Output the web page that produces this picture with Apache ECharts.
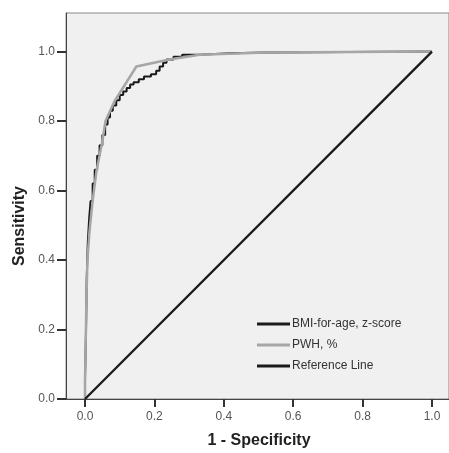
<!DOCTYPE html>
<html>
<head>
<meta charset="utf-8">
<script src="https://cdn.jsdelivr.net/npm/echarts@6/dist/echarts.min.js"></script>
<style>html,body{margin:0;padding:0;background:#fff}#c{width:449px;height:453px}</style>
</head>
<body>
<div id="c"></div>
<script>
var tickValues = [0, 0.2, 0.4, 0.6, 0.8, 1.0];
var seriesNames = ['BMI-for-age, z-score', 'PWH, %', 'Reference Line'];
var bmiPoints = [[0,0],[0,0.06],[0.003,0.06],[0.003,0.2],[0.005,0.2],[0.005,0.35],[0.008,0.35],[0.008,0.45],[0.012,0.45],[0.012,0.52],[0.016,0.52],[0.016,0.57],[0.022,0.57],[0.022,0.62],[0.028,0.62],[0.028,0.66],[0.035,0.66],[0.035,0.70],[0.042,0.70],[0.042,0.73],[0.05,0.73],[0.05,0.76],[0.058,0.76],[0.058,0.79],[0.065,0.79],[0.065,0.81],[0.072,0.81],[0.072,0.83],[0.08,0.83],[0.08,0.845],[0.09,0.845],[0.09,0.86],[0.1,0.86],[0.1,0.875],[0.11,0.875],[0.11,0.885],[0.12,0.885],[0.12,0.895],[0.13,0.895],[0.13,0.905],[0.14,0.905],[0.14,0.912],[0.155,0.912],[0.155,0.92],[0.17,0.92],[0.17,0.928],[0.19,0.928],[0.19,0.935],[0.205,0.935],[0.205,0.945],[0.215,0.945],[0.215,0.957],[0.225,0.957],[0.225,0.968],[0.235,0.968],[0.235,0.977],[0.255,0.977],[0.255,0.985],[0.28,0.985],[0.28,0.991],[0.33,0.991],[0.33,0.995],[0.42,0.995],[0.42,0.997],[0.52,0.997],[0.52,1.0],[1,1]];
var pwhPoints = [[0,0],[0.0,0.054],[0.004,0.284],[0.007,0.40],[0.013,0.484],[0.022,0.57],[0.033,0.656],[0.05,0.742],[0.059,0.80],[0.085,0.857],[0.148,0.957],[0.243,0.977],[0.33,0.991],[0.52,0.997],[1,1]];
var refPoints = [[0,0],[1,1]];

var chart = echarts.init(document.getElementById('c'));
var fam = 'Liberation Sans, Arial, sans-serif';
chart.setOption({
  animation:false,
  backgroundColor:'#ffffff',
  grid:{left:66, top:13, right:-2, bottom:54, show:true, backgroundColor:'#eff0ef', borderColor:'#888', borderWidth:1, containLabel:false},
  xAxis:{type:'value', min:-0.0548, max:1.049,
    splitLine:{show:false},
    axisLine:{show:true, onZero:false, lineStyle:{color:'#444', width:1}},
    axisTick:{show:true, inside:false, customValues:tickValues, length:8, lineStyle:{color:'#333', width:2}},
    axisLabel:{customValues:tickValues, formatter:function(v){return v.toFixed(1);}, margin:12, fontFamily:fam, fontSize:12, color:'#555'}
  },
  yAxis:{type:'value', min:0, max:1.111,
    splitLine:{show:false},
    axisLine:{show:true, onZero:false, lineStyle:{color:'#444', width:1}},
    axisTick:{show:true, inside:false, customValues:tickValues, length:9, lineStyle:{color:'#333', width:2}},
    axisLabel:{customValues:tickValues, formatter:function(v){return v.toFixed(1);}, margin:11, fontFamily:fam, fontSize:12, color:'#555'}
  },
  legend:{left:252, top:312, orient:'vertical', icon:'rect', itemWidth:33, itemHeight:3, itemGap:7,
    textStyle:{fontFamily:fam, fontSize:12, color:'#333', lineHeight:14, height:14, padding:[0,0,0,-3]},
    data:seriesNames},
  series:[
    {name:seriesNames[0], type:'line', data:bmiPoints, symbol:'none', z:3, lineStyle:{color:'#1a1a1a', width:2}, itemStyle:{color:'#1a1a1a'}},
    {name:seriesNames[1], type:'line', data:pwhPoints, symbol:'none', z:4, lineStyle:{color:'#a6a6a6', width:2.5}, itemStyle:{color:'#a6a6a6'}},
    {name:seriesNames[2], type:'line', data:refPoints, symbol:'none', z:5, lineStyle:{color:'#1a1a1a', width:2.3}, itemStyle:{color:'#1a1a1a'}}
  ],
  graphic:[
    {type:'text', x:20, y:226, rotation:Math.PI/2, style:{text:'Sensitivity', fontFamily:fam, fontSize:16, fontWeight:'bold', fill:'#222', align:'center', verticalAlign:'middle'}},
    {type:'text', x:259, y:441, style:{text:'1 - Specificity', fontFamily:fam, fontSize:16, fontWeight:'bold', fill:'#222', align:'center', verticalAlign:'middle'}}
  ]
});
</script>
</body>
</html>
